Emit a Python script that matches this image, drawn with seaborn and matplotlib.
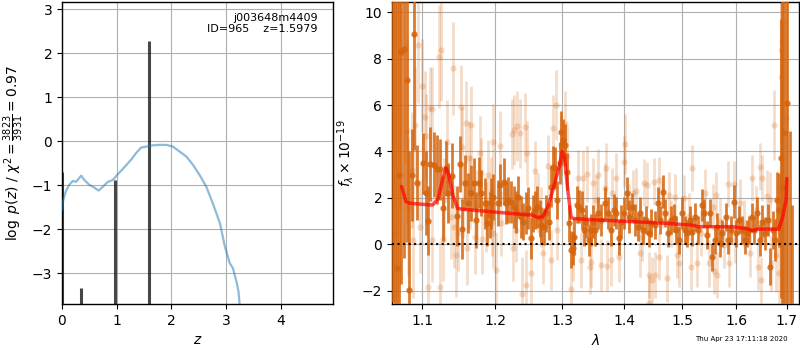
import matplotlib
matplotlib.use("Agg")
import matplotlib.pyplot as plt
import seaborn as sns
from matplotlib.ticker import FixedLocator, FixedFormatter, NullLocator

# ---------------- data: redshift PDF ----------------
zgrid = [0.0, 0.024, 0.07, 0.13, 0.20, 0.26, 0.35, 0.41, 0.50, 0.59, 0.67, 0.75,
         0.84, 0.93, 0.99, 1.08, 1.17, 1.27, 1.36, 1.45, 1.54, 1.66, 1.79, 1.91,
         2.03, 2.15, 2.28, 2.40, 2.52, 2.64, 2.76, 2.89, 2.98, 3.07, 3.13, 3.20,
         3.23, 3.25, 3.27]
logpz = [-1.56, -1.33, -1.14, -0.99, -0.90, -0.92, -0.78, -0.88, -0.99, -1.05,
         -1.12, -1.03, -0.92, -0.88, -0.79, -0.67, -0.55, -0.41, -0.26, -0.14,
         -0.12, -0.09, -0.08, -0.08, -0.12, -0.23, -0.35, -0.54, -0.77, -1.03,
         -1.41, -1.86, -2.39, -2.77, -2.89, -3.23, -3.42, -3.70, -4.50]
spike_z = [0.008, 0.343, 0.965, 1.598]
spike_logp = [-0.70, -3.34, -0.88, 2.29]

# ---------------- data: spectrum, beam 1 (dark) ----------------
lam1 = [1.0625, 1.0650, 1.0672, 1.0700, 1.0730, 1.0760, 1.0796, 1.0830, 1.0869, 1.0891,
        1.0934, 1.1014, 1.1047, 1.1075, 1.1107, 1.1153, 1.1201, 1.1237, 1.1279, 1.1317,
        1.1349, 1.1400, 1.1470, 1.1502, 1.1540, 1.1582, 1.1619, 1.1665, 1.1703, 1.1735,
        1.1767, 1.1805, 1.1851, 1.1889, 1.1921, 1.1944, 1.1968, 1.2040, 1.2064, 1.2129,
        1.2163, 1.2187, 1.2236, 1.2276, 1.2310, 1.2335, 1.2374, 1.2409, 1.2448, 1.2483,
        1.2522, 1.2557, 1.2581, 1.2621, 1.2655, 1.2680, 1.2720, 1.2754, 1.2802, 1.2827,
        1.2852, 1.2886, 1.2926, 1.2960, 1.2990, 1.3016, 1.3042, 1.3070, 1.3107, 1.3146,
        1.3162, 1.3188, 1.3232, 1.3269, 1.3308, 1.3350, 1.3378, 1.3422, 1.3459, 1.3487,
        1.3513, 1.3568, 1.3622, 1.3675, 1.3731, 1.3784, 1.3828, 1.3865, 1.3909, 1.3946,
        1.4000, 1.4042, 1.4088, 1.4130, 1.4176, 1.4224, 1.4265, 1.4325, 1.4365, 1.4413,
        1.4459, 1.4519, 1.4572, 1.4617, 1.4665, 1.4706, 1.4753, 1.4801, 1.4854, 1.4894,
        1.4942, 1.5000, 1.5050, 1.5093, 1.5143, 1.5185, 1.5235, 1.5296, 1.5357, 1.5402,
        1.5463, 1.5505, 1.5555, 1.5605, 1.5648, 1.5690, 1.5741, 1.5802, 1.5852, 1.5913,
        1.5957, 1.6006, 1.6051, 1.6114, 1.6165, 1.6209, 1.6252, 1.6304, 1.6355, 1.6404,
        1.6461, 1.6513, 1.6570, 1.6621, 1.6670, 1.6716, 1.6760, 1.6798, 1.6842, 1.6874,
        1.6906, 1.6950, 1.7013, 1.7065, 1.7097]
flux1 = [11.5, -4.0, -1.03, 3.0, 8.28, 8.40, 7.08, -1.97, 2.99, 9.06,
         2.66, 3.49, 2.22, 1.02, 3.45, 3.42, 3.23, 3.23, 1.55, 3.27,
         2.20, 2.96, 1.22, 3.45, 0.65, 2.66, 1.79, 2.22, 2.63, 1.05,
         2.66, 2.22, 1.76, 0.91, 1.27, 1.76, 2.05, 1.77, 2.56, 2.70,
         1.77, 1.91, 1.84, 1.60, 1.41, 2.05, 1.19, 0.98, 1.34, 1.55,
         0.26, 1.34, 1.48, 1.62, 1.12, 0.83, 0.76, 1.34, 0.98, 2.49,
         3.35, 3.28, 1.91, 3.49, 4.86, 4.50, 4.28, 3.13, 0.91, -0.24,
         -0.17, 0.33, 1.70, 1.62, 1.48, 0.62, 0.98, 0.19, 0.62, 0.98,
         0.62, 1.34, 1.05, 1.77, 1.34, 0.62, 1.48, 1.34, 0.26, 0.98,
         1.34, 2.20, 1.19, 1.62, 1.05, 0.76, 1.34, 0.62, 1.05, 0.47,
         0.91, 0.83, 1.77, 1.05, 2.27, 1.34, 0.47, 1.05, 1.12, 0.62,
         0.19, 1.34, 0.62, 0.47, 1.05, 0.55, 1.19, 0.62, 1.70, 1.34,
         0.40, 1.34, -0.53, 0.19, 0.76, 0.04, 0.47, 1.19, 0.19, 0.62,
         1.84, 0.47, 1.05, 0.62, 0.19, 0.47, 0.62, 1.19, 0.62, 1.34,
         0.19, 0.98, 0.47, 1.05, -0.96, 0.62, 0.19, 1.91, 1.48, 3.71,
         2.49, 4.78, 6.08, -3.0, -3.5]
err1 = [14, 15, 12, 12, 10, 9, 7, 6, 2.0, 5,
        1.6, 1.3, 1.8, 1.5, 1.6, 1.4, 1.5, 1.3, 1.4, 1.2,
        1.3, 1.4, 1.3, 1.2, 1.3, 1.2, 1.3, 1.2, 1.1, 1.2,
        1.1, 1.0, 1.1, 1.0, 1.0, 1.1, 1.0, 1.0, 0.9, 1.0,
        0.9, 1.0, 0.9, 0.9, 0.9, 0.9, 0.9, 0.8, 0.9, 0.9,
        0.9, 0.8, 0.8, 0.9, 0.8, 0.8, 0.8, 0.8, 0.8, 0.9,
        0.9, 0.9, 0.8, 0.9, 0.9, 0.9, 0.9, 0.8, 0.8, 0.8,
        0.7, 0.8, 0.8, 0.7, 0.8, 0.7, 0.7, 0.7, 0.7, 0.7,
        0.7, 0.7, 0.7, 0.7, 0.7, 0.7, 0.7, 0.7, 0.7, 0.7,
        0.7, 0.7, 0.7, 0.6, 0.7, 0.6, 0.7, 0.6, 0.6, 0.6,
        0.6, 0.6, 0.7, 0.6, 0.7, 0.6, 0.6, 0.6, 0.6, 0.6,
        0.6, 0.7, 0.6, 0.6, 0.6, 0.6, 0.6, 0.6, 0.7, 0.6,
        0.6, 0.6, 0.6, 0.6, 0.6, 0.6, 0.6, 0.6, 0.6, 0.6,
        0.7, 0.6, 0.6, 0.6, 0.6, 0.6, 0.6, 0.6, 0.6, 0.7,
        0.7, 0.7, 0.7, 0.7, 0.8, 0.8, 0.9, 1.2, 1.6, 6.0,
        9.0, 12, 12, 7.9, 5.2]

# ---------------- data: spectrum, beam 2 (light) ----------------
lam2 = [1.0642, 1.0708, 1.0773, 1.0796, 1.0815, 1.0861, 1.0882, 1.0904, 1.0948, 1.0970,
        1.0992, 1.1038, 1.1052, 1.1075, 1.1107, 1.1131, 1.1135, 1.1223, 1.1237, 1.1247,
        1.1271, 1.1293, 1.1331, 1.1386, 1.1410, 1.1432, 1.1456, 1.1480, 1.1526, 1.1535,
        1.1550, 1.1596, 1.1600, 1.1628, 1.1642, 1.1665, 1.1711, 1.1749, 1.1781, 1.1805,
        1.1810, 1.1875, 1.1898, 1.1944, 1.1950, 1.1968, 1.1972, 1.2015, 1.2064, 1.2089,
        1.2247, 1.2261, 1.2276, 1.2310, 1.2325, 1.2359, 1.2394, 1.2433, 1.2458, 1.2473,
        1.2532, 1.2581, 1.2631, 1.2680, 1.2705, 1.2787, 1.2827, 1.2861, 1.2911, 1.2926,
        1.2990, 1.3037, 1.3081, 1.3135, 1.3162, 1.3243, 1.3297, 1.3325, 1.3394, 1.3432,
        1.3459, 1.3487, 1.3540, 1.3568, 1.3622, 1.3675, 1.3703, 1.3719, 1.3773, 1.3800,
        1.3865, 1.3919, 1.4000, 1.4018, 1.4080, 1.4148, 1.4200, 1.4265, 1.4300, 1.4342,
        1.4383, 1.4413, 1.4423, 1.4471, 1.4501, 1.4529, 1.4589, 1.4595, 1.4640, 1.4736,
        1.4766, 1.4800, 1.4882, 1.4912, 1.4942, 1.5040, 1.5120, 1.5154, 1.5172, 1.5278,
        1.5350, 1.5420, 1.5494, 1.5560, 1.5587, 1.5630, 1.5648, 1.5700, 1.5772, 1.5852,
        1.5860, 1.5957, 1.5987, 1.6080, 1.6150, 1.6271, 1.6304, 1.6380, 1.6431, 1.6461,
        1.6493, 1.6513, 1.6600, 1.6670, 1.6683, 1.6746, 1.6778, 1.6841, 1.6874, 1.6888,
        1.6906, 1.6969, 1.6988]
flux2 = [0.5, 8.38, 8.45, 4.90, 1.62, 3.20, 0.19, 5.14, 8.59, 0.76,
         6.83, 5.47, 4.67, -1.82, 5.86, 0.19, 5.82, 8.09, -1.85, 8.38,
         0.23, 1.91, 4.43, 1.19, 7.59, 0.76, -0.46, 0.47, 5.91, 4.21,
         1.91, 5.24, -0.17, 3.71, 2.27, 5.14, 0.33, 1.62, 3.92, 3.06,
         0.22, 1.19, 2.99, 2.27, 0.98, 4.43, 0.47, -1.11, 4.25, 0.91,
         4.76, -0.17, 4.93, 0.62, 5.11, 4.78, -2.14, 5.04, -1.75, 3.92,
         -1.25, 3.16, 1.77, 1.19, -0.39, 3.39, -0.68, 5.03, 5.99, 0.62,
         4.28, 5.19, 3.81, -1.94, -0.39, 2.87, -0.68, 2.84, 3.02, -0.96,
         -0.75, 2.63, 1.90, 2.99, -0.89, 2.41, 3.28, -0.92, -0.68, 2.20,
         2.84, -0.53, 3.56, 4.31, 1.60, 2.20, 2.30, -0.39, 0.30, 2.66,
         2.56, -1.32, -2.54, -1.54, 2.70, -1.32, 2.77, -0.53, 1.70, -1.47,
         2.13, 0.90, 2.05, -0.46, -0.82, 2.00, 1.20, -0.96, 3.28, -0.82,
         0.50, 2.23, -0.82, 1.60, -1.14, 2.13, -1.32, 1.00, -0.03, 2.59,
         -0.82, 2.59, 0.19, 1.80, 0.90, -0.39, 2.87, 1.50, -0.96, 3.35,
         -1.54, 2.87, 2.10, 1.91, -0.82, 5.14, -0.46, -1.25, 8.38, 7.23,
         8.74, 1.77, 5.43]
err2 = [10, 7, 5, 4, 3, 2.5, 2.5, 2.5, 2.5, 2.0,
        2.0, 2.0, 1.8, 2.0, 1.8, 1.8, 1.8, 2.2, 2.0, 2.2,
        1.8, 1.8, 1.8, 1.8, 2.0, 1.8, 1.8, 1.6, 1.8, 1.7,
        1.6, 1.8, 1.6, 1.6, 1.6, 1.7, 1.6, 1.6, 1.6, 1.5,
        1.5, 1.5, 1.5, 1.5, 1.5, 1.6, 1.5, 1.6, 1.5, 1.4,
        1.5, 1.4, 1.5, 1.4, 1.5, 1.5, 1.6, 1.5, 1.5, 1.4,
        1.4, 1.3, 1.3, 1.3, 1.3, 1.3, 1.3, 1.4, 1.5, 1.3,
        1.3, 1.4, 1.3, 1.3, 1.2, 1.2, 1.2, 1.2, 1.2, 1.2,
        1.1, 1.1, 1.1, 1.1, 1.1, 1.1, 1.1, 1.1, 1.1, 1.1,
        1.1, 1.1, 1.1, 1.3, 1.0, 1.0, 1.0, 1.0, 1.0, 1.0,
        1.0, 1.0, 1.2, 1.0, 1.0, 1.0, 1.0, 1.0, 1.0, 1.0,
        1.0, 1.0, 1.0, 1.0, 1.0, 1.0, 1.0, 1.0, 1.0, 1.0,
        1.0, 1.0, 1.0, 1.0, 1.0, 1.0, 1.0, 1.0, 1.0, 1.0,
        1.0, 1.0, 1.0, 1.0, 1.0, 1.0, 1.0, 1.0, 1.0, 1.0,
        1.0, 1.0, 1.1, 1.2, 1.2, 1.5, 1.6, 2.0, 4.0, 6.0,
        8.0, 8.0, 10]

# ---------------- data: best-fit model ----------------
lam_model = [1.0732, 1.0788, 1.0839, 1.1101, 1.1141, 1.1212, 1.1279, 1.1316, 1.1350,
             1.1416, 1.1474, 1.1552, 1.2038, 1.2528, 1.2627, 1.2704, 1.2780, 1.2871,
             1.2957, 1.3000, 1.3036, 1.3088, 1.3140, 1.3182, 1.3555, 1.4112, 1.4686,
             1.5180, 1.5300, 1.5924, 1.6179, 1.6321, 1.6405, 1.6571, 1.6837, 1.6917,
             1.6985, 1.7000]
flux_model = [2.49, 1.84, 1.77, 1.70, 1.70, 1.98, 2.92, 3.28, 3.06,
              2.05, 1.55, 1.51, 1.38, 1.26, 1.16, 1.19, 1.62, 2.49,
              3.35, 3.99, 3.78, 2.34, 1.16, 1.11, 1.05, 0.98, 0.91,
              0.83, 0.76, 0.76, 0.69, 0.59, 0.65, 0.66, 0.65, 1.19,
              1.91, 2.84]

lam_ticks = [1.1, 1.2, 1.3, 1.4, 1.5, 1.6, 1.7]
lam_ticklabels = ["1.1", "1.2", "1.3", "1.4", "1.5", "1.6", "1.7"]

# ---------------- style ----------------
sns.set_style("ticks", {"axes.grid": True, "grid.color": "#b0b0b0",
                        "grid.linestyle": "-", "axes.edgecolor": "black",
                        "xtick.color": "black", "ytick.color": "black",
                        "text.color": "black", "axes.labelcolor": "black"})
plt.rcParams['font.family'] = ['DejaVu Sans']
plt.rcParams['mathtext.fontset'] = 'dejavusans'
plt.rcParams['grid.linewidth'] = 0.8
plt.rcParams['axes.linewidth'] = 1.0

fig = plt.figure(figsize=(8, 3.5), dpi=100)

# ---------------- left panel ----------------
ax1 = fig.add_axes([0.0775, 0.1314, 0.3388, 0.8629])
ax1.vlines(spike_z, -10, spike_logp, color='k', alpha=0.72, lw=2.2, zorder=3)
sns.lineplot(x=zgrid, y=logpz, ax=ax1, color='#1f77b4', alpha=0.5, lw=1.6,
             estimator=None, sort=False, zorder=4)
ax1.set_xlim(0, 4.96)
ax1.set_ylim(-3.70, 3.17)
ax1.set_xticks([0, 1, 2, 3, 4])
ax1.set_yticks([-3, -2, -1, 0, 1, 2, 3])
ax1.set_xlabel('$z$')
ax1.set_ylabel(r'$\log\ p(z)$ / $\chi^2=\frac{3823}{3931}=0.97$')
ax1.text(0.944, 0.965, 'j003648m4409\nID=965    z=1.5979', ha='right', va='top',
         transform=ax1.transAxes, fontsize=8)

# ---------------- right panel ----------------
col = '#d5640c'
ax2 = fig.add_axes([0.49, 0.1314, 0.5088, 0.8629])
ax2.set_xscale('log')
ax2.errorbar(lam2, flux2, yerr=err2, fmt='o', color=col, alpha=0.22,
             ms=4.5, lw=2, mew=0, zorder=2)
ax2.errorbar(lam1, flux1, yerr=err1, fmt='o', color=col, alpha=0.85,
             ms=4.5, lw=2, mew=0, zorder=3)
sns.lineplot(x=lam_model, y=flux_model, ax=ax2, color='red', alpha=0.7, lw=2.5,
             estimator=None, sort=False, zorder=5)
ax2.axhline(0, color='k', ls=':', lw=1.5, zorder=6)
ax2.set_xlim(1.061, 1.725)
ax2.set_ylim(-2.57, 10.44)
ax2.xaxis.set_major_locator(FixedLocator(lam_ticks))
ax2.xaxis.set_major_formatter(FixedFormatter(lam_ticklabels))
ax2.xaxis.set_minor_locator(NullLocator())
ax2.set_yticks([-2, 0, 2, 4, 6, 8, 10])
ax2.set_xlabel(r'$\lambda$')
ax2.set_ylabel(r'$f_\lambda \times 10^{-19}$')
ax2.grid(True, which='major')
ax2.set_axisbelow(True)
ax1.set_axisbelow(True)

fig.text(0.984, 0.022, 'Thu Apr 23 17:11:18 2020', ha='right', va='bottom',
         fontsize=5)

fig.savefig('out.png', dpi=100)
